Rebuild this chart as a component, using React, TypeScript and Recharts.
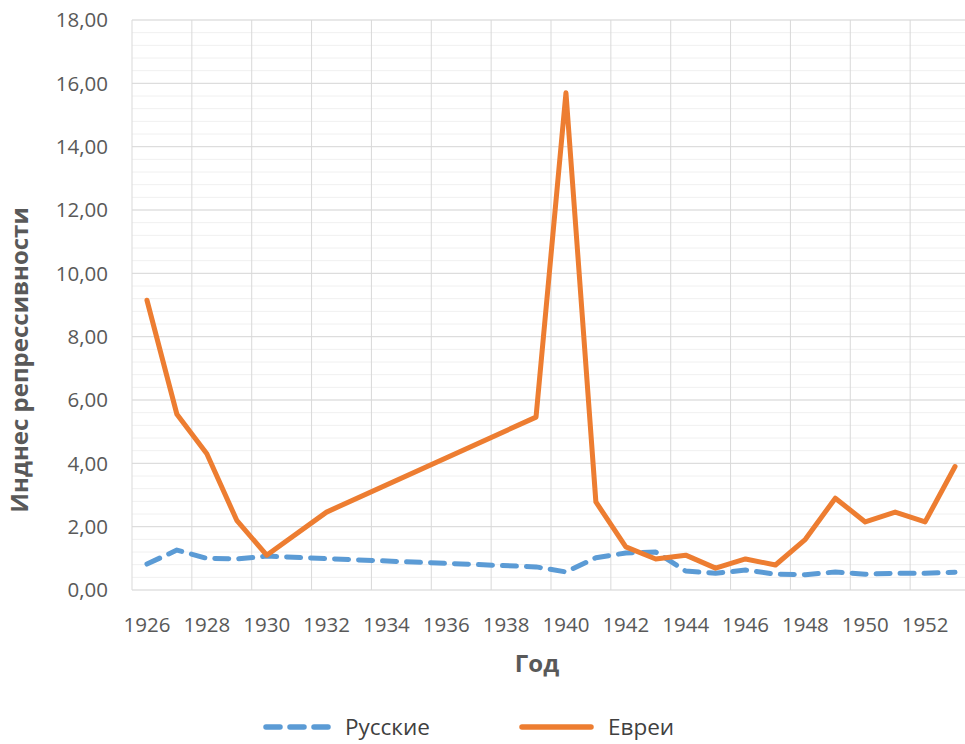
import { CartesianGrid, Label, Legend, Line, LineChart, XAxis, YAxis } from 'recharts'

const years = [
  1926, 1927, 1928, 1929, 1930, 1931, 1932, 1933, 1934, 1935, 1936, 1937, 1938, 1939,
  1940, 1941, 1942, 1943, 1944, 1945, 1946, 1947, 1948, 1949, 1950, 1951, 1952, 1953,
]

// Индекс по русским (пропуски — нет данных, линия соединяется)
const russians = [
  0.82, 1.26, 1.0, 0.98, 1.07, null, 0.99, null, null, null, null, null, null, 0.73,
  0.57, 1.02, 1.17, 1.2, 0.6, 0.53, 0.63, 0.5, 0.48, 0.57, 0.5, 0.53, 0.53, 0.56,
]

const jews = [
  9.15, 5.55, 4.3, 2.2, 1.1, null, 2.46, null, null, null, null, null, null, 5.46,
  15.7, 2.78, 1.36, 0.98, 1.1, 0.69, 0.98, 0.79, 1.6, 2.9, 2.15, 2.46, 2.15, 3.9,
]

const yearTicks = [1926, 1928, 1930, 1932, 1934, 1936, 1938, 1940, 1942, 1944, 1946, 1948, 1950, 1952]
const valueTicks = [0, 2, 4, 6, 8, 10, 12, 14, 16, 18]

const series = [
  { key: 'russians', name: 'Русские', color: '#5B9BD5', dash: '14 10' },
  { key: 'jews', name: 'Евреи', color: '#ED7D31', dash: undefined },
]

const data = years.map((year, i) => ({ year, russians: russians[i], jews: jews[i] }))

// category boundaries every 2 years, minor horizontal lines every 0.4
const yearGrid: number[] = []
for (let y = years[0] - 0.5; y <= years[years.length - 1] + 0.5; y += 2) yearGrid.push(y)
const minorGrid: number[] = []
for (let v = 0; v <= 18.001; v += 0.4) minorGrid.push(Math.round(v * 10) / 10)

const textColor = '#595959'
const font = '"Open Sans", sans-serif'

const formatValue = (v: number) => v.toFixed(2).replace('.', ',')

function YTitle({ viewBox }: { viewBox?: { x: number; y: number; width: number; height: number } }) {
  if (!viewBox) return null
  const cx = 18
  const cy = viewBox.y + viewBox.height / 2 + 55
  return (
    <text
      x={cx}
      y={cy}
      transform={`rotate(-90, ${cx}, ${cy})`}
      textAnchor="middle"
      dominantBaseline="central"
      fill={textColor}
      fontFamily={font}
      fontSize={24}
      fontWeight={700}
    >
      Инднес репрессивности
    </text>
  )
}

function XTitle({ viewBox }: { viewBox?: { x: number; y: number; width: number; height: number } }) {
  if (!viewBox) return null
  return (
    <text
      x={537}
      y={viewBox.y + 82}
      textAnchor="middle"
      fill={textColor}
      fontFamily={font}
      fontSize={24}
      fontWeight={700}
    >
      Год
    </text>
  )
}

function LegendContent() {
  return (
    <svg width={965} height={40}>
      {series.map((s, i) => {
        const x0 = i === 0 ? 266 : 522
        const len = i === 0 ? 62 : 69
        return (
          <g key={s.key}>
            <line
              x1={x0}
              x2={x0 + len}
              y1={24}
              y2={24}
              stroke={s.color}
              strokeWidth={5.5}
              strokeLinecap="round"
              strokeDasharray={s.dash}
            />
            <text x={x0 + len + 17} y={32} fill="#404040" fontFamily={font} fontSize={22.5}>
              {s.name}
            </text>
          </g>
        )
      })}
    </svg>
  )
}

export default function App() {
  return (
    <div style={{ position: 'absolute', left: 0, top: 0, width: 965, height: 744, overflow: 'hidden', background: '#fff' }}>
      <LineChart width={980} height={760} data={data} margin={{ top: 20, right: 10, bottom: 0, left: 0 }}>
        <CartesianGrid vertical={false} horizontalValues={minorGrid} stroke="#F0F0F0" strokeWidth={1} />
        <CartesianGrid horizontalValues={valueTicks} verticalValues={yearGrid} stroke="#D9D9D9" strokeWidth={1} />
        <XAxis
          dataKey="year"
          type="number"
          domain={[years[0] - 0.5, years[years.length - 1] + 0.5]}
          ticks={yearTicks}
          interval={0}
          height={170}
          axisLine={false}
          tickLine={false}
          tickSize={0}
          tickMargin={27}
          tick={{ fill: textColor, fontSize: 20.5, fontFamily: font }}
        >
          <Label content={<XTitle />} />
        </XAxis>
        <YAxis
          type="number"
          domain={[0, 18]}
          ticks={valueTicks}
          interval={0}
          width={132}
          axisLine={false}
          tickLine={false}
          tickSize={0}
          tickMargin={24}
          tickFormatter={formatValue}
          tick={{ fill: textColor, fontSize: 20.5, fontFamily: font }}
        >
          <Label content={<YTitle />} />
        </YAxis>
        <Legend
          layout="horizontal"
          verticalAlign="middle"
          align="center"
          wrapperStyle={{ top: 703, left: 0, width: 965 }}
          content={<LegendContent />}
        />
        {series.map((s) => (
          <Line
            key={s.key}
            type="linear"
            dataKey={s.key}
            name={s.name}
            stroke={s.color}
            strokeWidth={5}
            strokeDasharray={s.dash}
            strokeLinecap="round"
            strokeLinejoin="round"
            dot={false}
            activeDot={false}
            connectNulls
            isAnimationActive={false}
          />
        ))}
      </LineChart>
    </div>
  )
}
